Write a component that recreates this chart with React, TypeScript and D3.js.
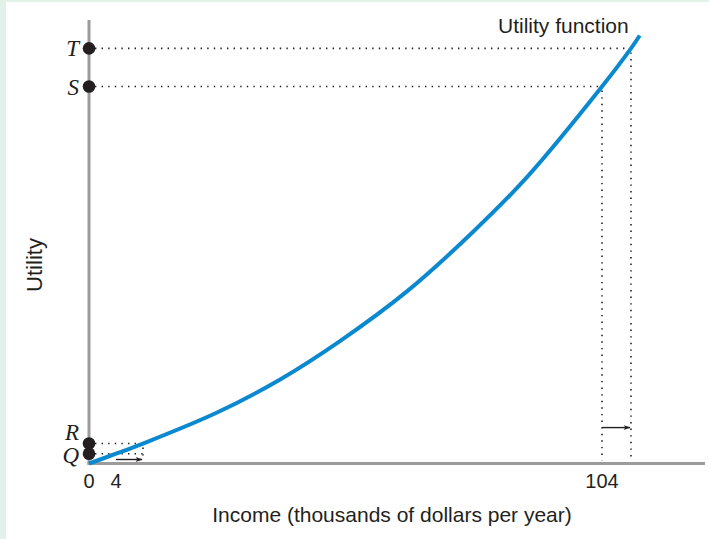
import React from "react";
import * as d3 from "d3";

// Curve: income (thousands $/yr) vs utility (0-100 index)
const incomes = [0, 4, 8, 23.5, 36.6, 49.2, 63.2, 77.0, 88.5, 104, 108, 109.2];
const utility = [0, 2.2, 4.5, 11.5, 18.9, 27.6, 38.8, 52.2, 64.8, 85.0, 93.6, 96.5];

// Marked points on the utility axis
const markLabels = ["Q", "R", "S", "T"];
const markIncome = [4, 8, 104, 108];
const markUtility = [2.2, 4.5, 85.0, 93.6];
const markLineEnd = [8, 8, 104, 108];

// x tick labels
const xTicks = [0, 4, 104];

// income changes shown by arrows
const arrowFrom = [4, 104];
const arrowTo = [8, 108];
const arrowUtil = [0.9, 8.1];

export default function App() {
  const W = 709, H = 539;
  const x = d3.scaleLinear().domain([0, 8, 104, 108]).range([89, 143, 602, 631]);
  const y = d3.scaleLinear().domain([0, 100]).range([463.5, 20]);
  const pts: [number, number][] = incomes.map((d, i) => [x(d), y(utility[i])]);
  const line = d3.line().curve(d3.curveCatmullRom.alpha(0.5))(pts) || "";
  const ink = "#231f20";
  const blue = "#0a89d1";
  const dot = { stroke: ink, strokeWidth: 1.6, strokeDasharray: "1.4 5.2", fill: "none" } as const;
  const sans = "'Liberation Sans', Arial, sans-serif";
  const serif = "'Liberation Serif', 'Times New Roman', serif";
  return (
    <div style={{ position: "absolute", left: 0, top: 0 }}>
      <svg width={W} height={H} style={{ display: "block" }}>
        <defs>
          <marker id="ah" viewBox="0 0 10 10" refX="9" refY="5" markerWidth="9" markerHeight="7" markerUnits="userSpaceOnUse" orient="auto">
            <path d="M0,1.5 L10,5 L0,8.5 L2.5,5 Z" fill={ink} />
          </marker>
        </defs>
        <rect x={0} y={0} width={W} height={H} fill="#ffffff" />
        <rect x={0} y={0} width={6} height={H} fill="#e3f2e9" />
        <rect x={0} y={0} width={W} height={2} fill="#e3f2e9" />

        {/* dotted guide lines */}
        {markLabels.map((l, i) => (
          <line key={"h" + l} x1={x(0) + 6} x2={x(markLineEnd[i])} y1={y(markUtility[i])} y2={y(markUtility[i])} {...dot} />
        ))}
        {[1, 2, 3].map((i) => (
          <line key={"v" + i} x1={x(markIncome[i])} x2={x(markIncome[i])} y1={y(markUtility[i]) + 4} y2={y(0) - 3} {...dot} />
        ))}

        {/* arrows */}
        {arrowFrom.map((a, i) => (
          <line key={"a" + i} x1={x(a)} x2={x(arrowTo[i]) - 1} y1={y(arrowUtil[i])} y2={y(arrowUtil[i])} stroke={ink} strokeWidth={1.4} markerEnd="url(#ah)" />
        ))}

        {/* axes */}
        <line x1={x(0)} x2={x(0)} y1={y(100)} y2={y(0) + 1} stroke="#9b9b9b" strokeWidth={3} />
        <line x1={x(0) - 1.5} x2={705} y1={y(0)} y2={y(0)} stroke="#9b9b9b" strokeWidth={3} />

        {/* curve */}
        <path d={line} fill="none" stroke={blue} strokeWidth={4} strokeLinecap="butt" />

        {/* dots and labels */}
        {markLabels.map((l, i) => (
          <g key={l}>
            <circle cx={x(0)} cy={y(markUtility[i])} r={6.3} fill={ink} />
            <text x={79} y={y(markUtility[i]) + 8 + (l === "R" ? -12 : l === "Q" ? 1 : 0)} textAnchor="end" fontFamily={serif} fontStyle="italic" fontSize={23} fill={ink}>{l}</text>
          </g>
        ))}

        {/* tick labels */}
        {xTicks.map((t) => (
          <text key={t} x={x(t)} y={488} textAnchor="middle" fontFamily={sans} fontSize={20} fill={ink}>{t}</text>
        ))}

        <text x={392} y={522} textAnchor="middle" fontFamily={sans} fontSize={21} fill={ink}>Income (thousands of dollars per year)</text>
        <text transform={`translate(42,265) rotate(-90)`} textAnchor="middle" fontFamily={sans} fontSize={22} fill={ink}>Utility</text>
        <text x={498} y={33} fontFamily={sans} fontSize={21} fill={ink}>Utility function</text>
      </svg>
    </div>
  );
}
